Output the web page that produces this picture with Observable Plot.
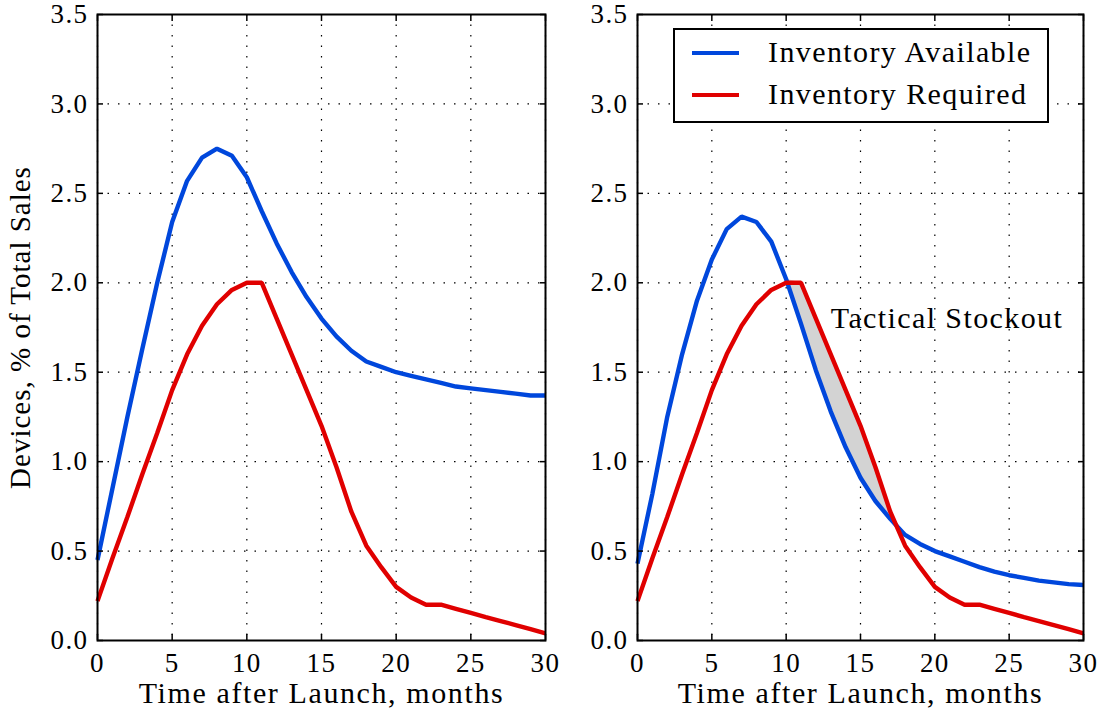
<!DOCTYPE html>
<html>
<head>
<meta charset="utf-8">
<script src="https://cdn.jsdelivr.net/npm/d3@7"></script>
<script src="https://cdn.jsdelivr.net/npm/@observablehq/plot@0.6"></script>
<style>
  html, body { margin: 0; padding: 0; background: #fff; }
  #wrap { position: relative; width: 1104px; height: 712px; font-family: "Liberation Serif", serif; }
  #wrap svg { position: absolute; top: 0; font-family: "Liberation Serif", serif; }
  #wrap svg text { letter-spacing: 1.4px; }
  #wrap svg [aria-label="x-axis label"] text { font-size: 30px; letter-spacing: 1.6px; }
  #wrap svg [aria-label="y-axis label"] text { font-size: 29px; letter-spacing: 1px; }
  #legend { position: absolute; left: 673px; top: 28px; width: 376px; height: 95px; border: 2px solid #000; background: #fff; box-sizing: border-box; font-size: 30px; letter-spacing: 1.4px; }
  .lg-swatch { position: absolute; left: 17px; width: 47px; height: 4px; }
  .lg-text { position: absolute; left: 93px; white-space: nowrap; line-height: 30px; }
</style>
</head>
<body>
<div id="wrap"></div>
<script>
// ---- data ----
const months = [0,1,2,3,4,5,6,7,8,9,10,11,12,13,14,15,16,17,18,19,20,21,22,23,24,25,26,27,28,29,30];
const availableLeft = [0.45,0.85,1.25,1.63,2.00,2.34,2.57,2.70,2.75,2.71,2.59,2.40,2.22,2.06,1.92,1.80,1.70,1.62,1.56,1.53,1.50,1.48,1.46,1.44,1.42,1.41,1.40,1.39,1.38,1.37,1.37];
const availableRight = [0.43,0.82,1.25,1.60,1.90,2.13,2.30,2.37,2.34,2.23,2.02,1.77,1.51,1.28,1.08,0.91,0.78,0.68,0.59,0.54,0.50,0.47,0.44,0.41,0.385,0.365,0.35,0.335,0.325,0.315,0.31];
const required = [0.22,0.46,0.69,0.93,1.16,1.40,1.60,1.76,1.88,1.96,2.00,2.00,1.80,1.60,1.40,1.20,0.97,0.72,0.53,0.41,0.30,0.24,0.20,0.20,0.177,0.154,0.131,0.109,0.086,0.063,0.04];
const seriesNames = ["Inventory Available", "Inventory Required"];
const seriesColors = ["#0047dc", "#e00000"];
const xTicks = [0,5,10,15,20,25,30];
const yTicks = [0,0.5,1.0,1.5,2.0,2.5,3.0,3.5];
const xLabel = "Time after Launch, months";
const yLabel = "Devices, % of Total Sales";
const annotation = "Tactical Stockout";

function rows(avail) {
  return months.map((m, i) => ({month: m, available: avail[i], required: required[i]}));
}

function panel({avail, width, marginLeft, marginRight, showYLabel, shade}) {
  const data = rows(avail);
  const marks = [
    Plot.gridX(xTicks, {stroke: "#000", strokeOpacity: 1, strokeWidth: 1.2, strokeDasharray: "1.5,9"}),
    Plot.gridY(yTicks, {stroke: "#000", strokeOpacity: 1, strokeWidth: 1.2, strokeDasharray: "1.5,9"}),
  ];
  if (shade) {
    marks.push(Plot.areaY(data.filter(d => d.month >= 10 && d.month <= 18), {
      x: "month",
      y1: d => d.available,
      y2: d => Math.max(d.available, d.required),
      fill: "#d3d3d3", fillOpacity: 1
    }));
  }
  marks.push(
    Plot.line(data, {x: "month", y: "available", stroke: seriesColors[0], strokeWidth: 4.4, strokeLinejoin: "miter", strokeLinecap: "butt"}),
    Plot.line(data, {x: "month", y: "required", stroke: seriesColors[1], strokeWidth: 4.4, strokeLinejoin: "miter", strokeLinecap: "butt"}),
    // inward ticks on all sides
    Plot.axisX(xTicks, {anchor: "bottom", tickSize: -6, strokeWidth: 1.5, text: null, label: null}),
    Plot.axisX(xTicks, {anchor: "top", tickSize: -6, strokeWidth: 1.5, text: null, label: null}),
    Plot.axisY(yTicks, {anchor: "left", tickSize: -6, strokeWidth: 1.5, text: null, label: null}),
    Plot.axisY(yTicks, {anchor: "right", tickSize: -6, strokeWidth: 1.5, text: null, label: null}),
    // tick labels
    Plot.axisX(xTicks, {anchor: "bottom", tickSize: 0, tickPadding: 12, fontSize: 27, tickFormat: d3.format("d"),
      label: xLabel, labelAnchor: "center", labelArrow: "none", labelOffset: 62}),
    Plot.axisY(yTicks, {anchor: "left", tickSize: 0, tickPadding: 9, fontSize: 27, tickFormat: d3.format(".1f"),
      label: showYLabel ? yLabel : null, labelAnchor: "center", labelArrow: "none", labelOffset: 88}),
    Plot.frame({stroke: "#000", strokeWidth: 2})
  );
  if (shade) {
    marks.push(Plot.text([annotation], {x: 13, y: 1.8, text: d => d, textAnchor: "start", fontSize: 30, fill: "#000"}));
  }
  return Plot.plot({
    width, height: 712,
    marginLeft, marginRight, marginTop: 14, marginBottom: 72,
    x: {domain: [0, 30]},
    y: {domain: [0, 3.5]},
    style: {fontFamily: "Liberation Serif, serif", fontSize: "30px", color: "#000", background: "transparent"},
    marks
  });
}

const wrap = document.getElementById("wrap");
const left = panel({avail: availableLeft, width: 560, marginLeft: 97, marginRight: 15, showYLabel: true, shade: false});
left.style.left = "0px";
const right = panel({avail: availableRight, width: 552, marginLeft: 85, marginRight: 21, showYLabel: false, shade: true});
right.style.left = "552px";
wrap.appendChild(left);
wrap.appendChild(right);

// legend
const legend = document.createElement("div");
legend.id = "legend";
seriesNames.forEach((name, i) => {
  const top = i === 0 ? 7 : 49;
  const sw = document.createElement("div");
  sw.className = "lg-swatch";
  sw.style.background = seriesColors[i];
  sw.style.top = (top + 14) + "px";
  const tx = document.createElement("div");
  tx.className = "lg-text";
  tx.textContent = name;
  tx.style.top = top + "px";
  legend.appendChild(sw);
  legend.appendChild(tx);
});
wrap.appendChild(legend);
</script>
</body>
</html>
